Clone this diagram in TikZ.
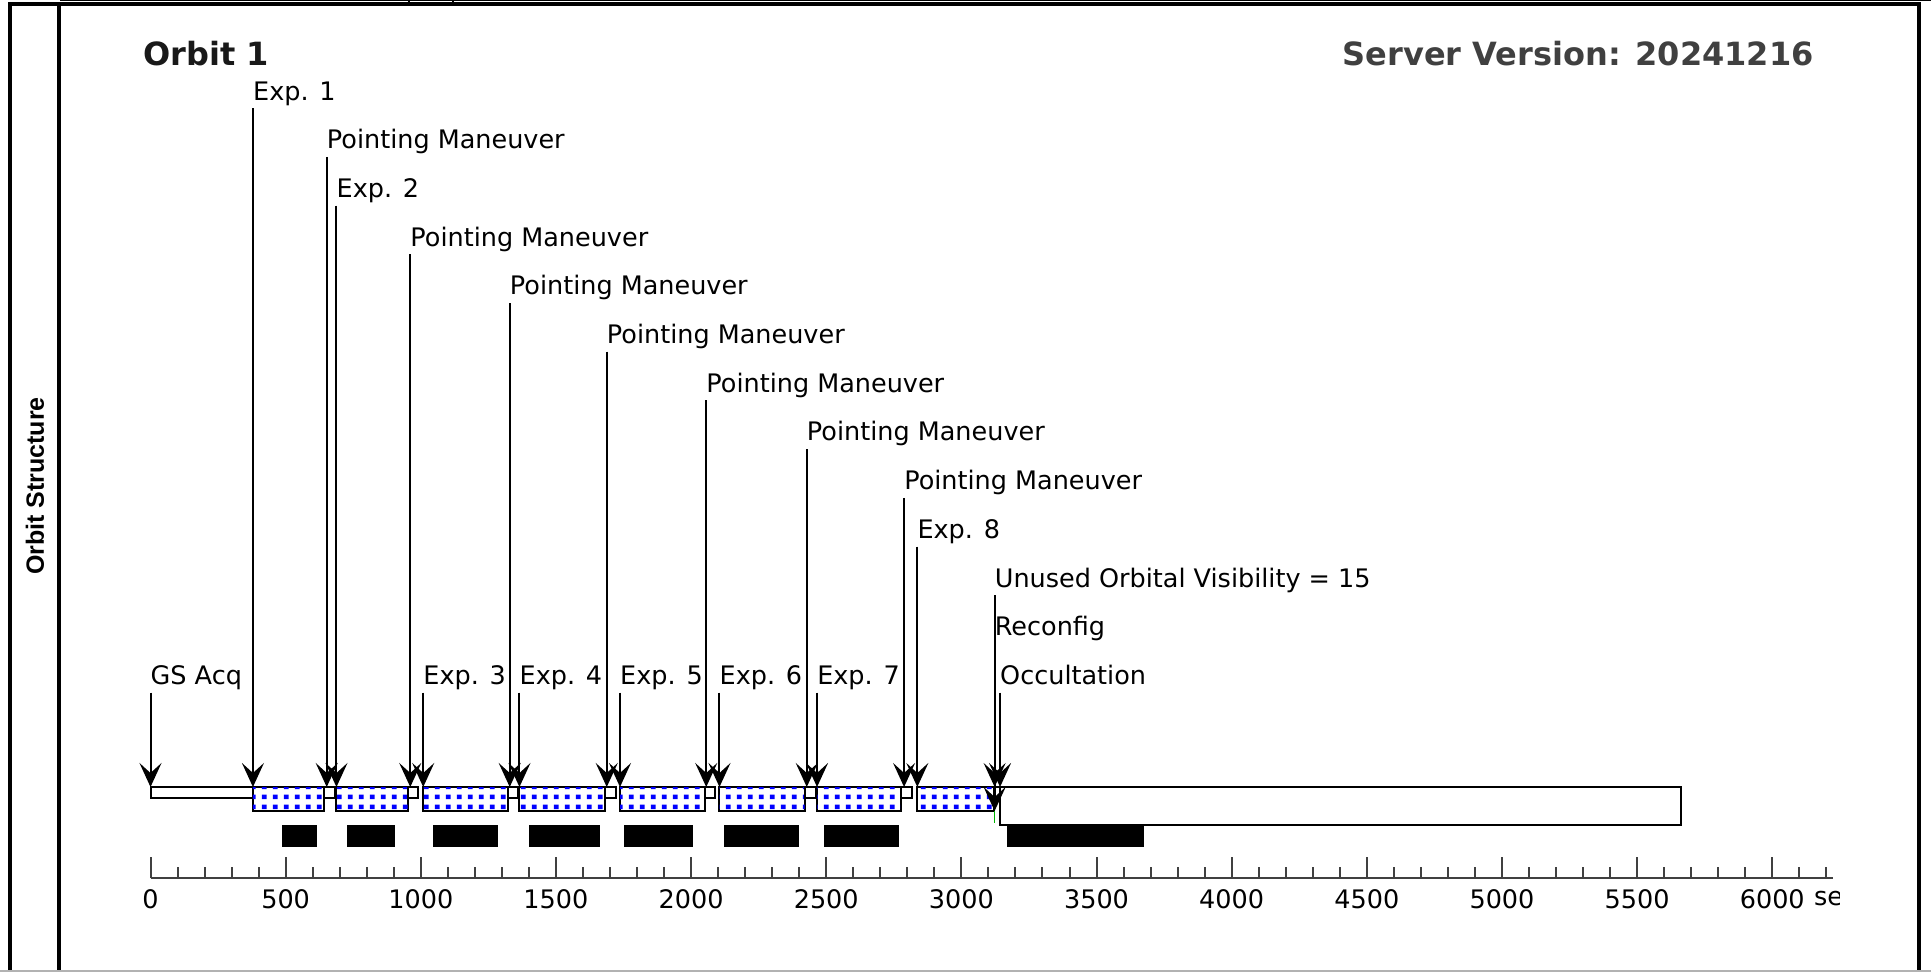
\documentclass[tikz,border=0pt]{standalone}
\usepackage{fontspec}
\setmainfont{DejaVu Sans}
\newfontfamily\headfont{Liberation Sans}
\usetikzlibrary{arrows.meta, positioning, patterns.meta}

\tikzdeclarepattern{
  name=expdots,
  tile size={(10.8pt,10pt)},
  bounding box={(0pt,0pt) and (10.8pt,10pt)},
  code={\fill (3pt,3pt) rectangle (7.8pt,7.8pt);}
}

\tikzset{
  lbl/.style={inner sep=0pt, anchor=base west, text depth=8pt, font=\fontsize{25.5}{30}\selectfont},
  tick/.style={inner sep=0pt, font=\fontsize{25.5}{30}\selectfont},
  title/.style={inner sep=0pt, font=\bfseries\fontsize{32}{38}\selectfont},
  box/.style={draw, line width=2pt, fill=white},
  expbox/.style={box, postaction={pattern=expdots, pattern color=blue}},
  axis/.style={draw=black!75, line width=2pt},
  pointer/.style={->, line width=2pt}
}

\begin{document}
\begin{tikzpicture}[x=1pt, y=-1pt, >={Stealth[length=24pt, width=22pt, inset=10pt]}]
	\useasboundingbox (0,0) rectangle (1931,972);
	
	% table cell frame
	\draw[line width=4pt] (10,972) -- (10,4) -- (1919,4) -- (1919,972);
	\draw[line width=4pt] (59,4) -- (59,972);
	\draw[line width=1pt] (60,0.5) -- (1931,0.5);
	\draw[line width=1.5pt] (409,0) -- (409,3) (453,0) -- (453,3);
	\draw[black!30, line width=1.5pt] (0,971) -- (1931,971);
	\node[rotate=90, inner sep=0pt, font=\headfont\bfseries\fontsize{25}{30}\selectfont] (rowname) at (35,486) {Orbit Structure};
	
	% titles
	\node[title, anchor=west, text=black!90] (orbit) at (143,54) {Orbit 1};
	\node[title, anchor=east, text=black!75] (server) at (1814,54) {Server Version: 20241216};
	
	% time line, x in seconds
	\begin{scope}[xshift=150.5pt, x=0.2703pt]
		\coordinate (bartop) at (0,787);
		\coordinate (barmid) at (0,811);
		
		% GS Acq
		\draw[box] (0,787) rectangle (379,798);
		% exposures
		\foreach \s/\e in {379/643, 688/953, 1009/1321, 1365/1683, 1737/2051, 2105/2420, 2466/2776, 2837/3121}
			\draw[expbox] (\s,787) rectangle (\e,811);
		% pointing maneuvers
		\foreach \s/\e in {643/681, 953/991, 1321/1361, 1683/1721, 2051/2088, 2420/2462, 2776/2816}
			\draw[box] (\s,787) rectangle (\e,798);
		% reconfig, unused visibility, occultation
		\draw[box] (3121,787) rectangle (3143,798);
		\draw[green!70!black, line width=1.5pt] (3123,811) -- (3123,823);
		\draw[box] (3143,787) rectangle (5662,825);
		
		% black bars
		\foreach \s/\e in {485/615, 726/905, 1044/1285, 1402/1662, 1753/2008, 2122/2400, 2492/2770, 3170/3676}
			\fill (\s,825) rectangle (\e,847);
		
		% event labels and pointers
		\foreach \t/\k/\txt/\nm in {0/12/{GS Acq}/gs, 379/0/{Exp. 1}/ex1, 652/1/{Pointing Maneuver}/pm1,
			688/2/{Exp. 2}/ex2, 961/3/{Pointing Maneuver}/pm2, 1009/12/{Exp. 3}/ex3,
			1329/4/{Pointing Maneuver}/pm3, 1365/12/{Exp. 4}/ex4, 1688/5/{Pointing Maneuver}/pm4,
			1737/12/{Exp. 5}/ex5, 2056/6/{Pointing Maneuver}/pm5, 2105/12/{Exp. 6}/ex6,
			2428/7/{Pointing Maneuver}/pm6, 2466/12/{Exp. 7}/ex7, 2788/8/{Pointing Maneuver}/pm7,
			2837/9/{Exp. 8}/ex8, 3123/11/{Reconfig}/rcf, 3143/12/{Occultation}/occ}
		{
			\node[lbl] (\nm) at (\t,{100+48.7*\k}) {\txt};
			\draw[pointer] (\nm.south west) -- (\nm.south west |- bartop);
		}
		\node[lbl] (unused) at (3123,587) {Unused Orbital Visibility = 15};
		\draw[pointer] (unused.south west) -- (unused.south west |- barmid);
		
		% axis
		\draw[axis] (0,878) -- (6224,878);
		\foreach \t in {0,100,...,6200}
			\draw[axis] (\t,878) -- (\t,867);
		\foreach \t in {0,500,...,6000}
			\draw[axis] (\t,878) -- (\t,857);
		\foreach \t in {0,500,...,5500}
			\node[tick] (t\t) at (\t,899) {\t};
		\node[tick] (t6000) at (6000,899) {6000};
		\begin{scope}
			\clip (0,860) rectangle (6250,940);
			\node[tick, right=9pt of t6000] (unit) {sec};
		\end{scope}
	\end{scope}
	
\end{tikzpicture}
\end{document}
